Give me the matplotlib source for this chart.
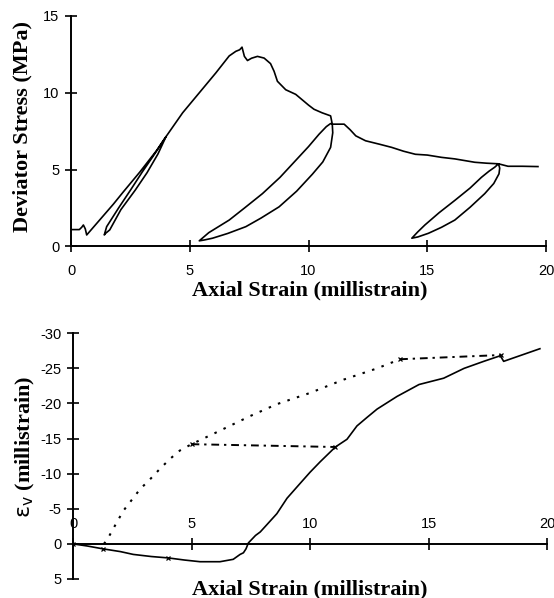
"""Deviator stress and volumetric strain against axial strain (two panels)"""

import matplotlib
matplotlib.use('Agg')
from matplotlib import pyplot as plt

# Top panel: one loading trace, split into virgin parts and unload/reload loops
curve_a_x = [0, 0.35, 0.45, 0.52, 0.6, 0.66, 0.8, 1.36, 1.78, 2.2, 2.9, 3.6, 4.0]
curve_a_y = [1.1, 1.1, 1.25, 1.4, 1.15, 0.75, 1.0, 2.0, 2.75, 3.55, 4.85, 6.24, 7.15]
loop1_down_x = [4.0, 3.66, 3.2, 2.7, 2.1, 1.63, 1.45, 1.4]
loop1_down_y = [7.15, 6.02, 4.8, 3.66, 2.4, 1.08, 0.85, 0.75]
loop1_up_x = [1.4, 1.5, 2.0, 2.5, 3.0, 3.52, 4.0]
loop1_up_y = [0.75, 1.29, 2.5, 3.66, 4.85, 6.02, 7.15]
curve_b_x = [4.0, 4.7, 5.4, 6.1, 6.66, 6.94, 7.1, 7.2, 7.3, 7.43, 7.6, 7.85, 8.13,
             8.4, 8.55, 8.69, 9.04, 9.46, 9.8, 10.0, 10.23, 10.57, 10.93, 11.0]
curve_b_y = [7.15, 8.7, 10.0, 11.3, 12.4, 12.7, 12.8, 12.97, 12.37, 12.1, 12.25, 12.37, 12.26,
             11.9, 11.4, 10.75, 10.2, 9.9, 9.46, 9.2, 8.93, 8.7, 8.5, 7.96]
loop2_down_x = [11.0, 11.02, 10.93, 10.6, 10.16, 9.5, 8.76, 8.0, 7.36, 6.6, 5.96, 5.6, 5.4]
loop2_down_y = [7.96, 7.4, 6.45, 5.5, 4.7, 3.6, 2.58, 1.85, 1.29, 0.85, 0.54, 0.42, 0.37]
loop2_up_x = [5.4, 5.8, 6.66, 7.3, 8.06, 8.8, 9.46, 10.0, 10.44, 10.75, 10.93, 11.0]
loop2_up_y = [0.37, 0.9, 1.72, 2.5, 3.44, 4.5, 5.6, 6.5, 7.3, 7.8, 8.0, 7.96]
curve_c_x = [11.0, 11.5, 11.75, 11.99, 12.4, 13.0, 13.5, 14.0, 14.5, 15.0, 15.6, 16.16,
             17.0, 17.5, 18.0]
curve_c_y = [7.96, 7.96, 7.6, 7.2, 6.88, 6.65, 6.45, 6.2, 6.0, 5.95, 5.8, 5.7,
             5.48, 5.42, 5.38]
loop3_down_x = [18.0, 18.05, 18.02, 17.8, 17.42, 16.8, 16.16, 15.6, 15.05, 14.6, 14.35]
loop3_down_y = [5.38, 5.1, 4.73, 4.1, 3.44, 2.55, 1.72, 1.25, 0.86, 0.62, 0.54]
loop3_up_x = [14.35, 14.6, 14.9, 15.5, 16.16, 16.8, 17.28, 17.6, 17.84, 18.0]
loop3_up_y = [0.54, 0.95, 1.4, 2.2, 3.0, 3.8, 4.5, 4.9, 5.16, 5.38]
curve_d_x = [18.0, 18.4, 19.0, 19.66]
curve_d_y = [5.38, 5.22, 5.22, 5.2]

# Bottom panel: volumetric strain
ev_x = [0, 0.6, 1.25, 2.0, 2.54, 3.3, 4.02, 4.7, 5.36, 6.2, 6.76, 7.05, 7.19, 7.3, 7.4,
        7.7, 7.9, 8.17, 8.6, 9.03, 9.5, 10.0, 10.43, 11.07, 11.56, 11.98, 12.4, 12.83,
        13.67, 14.6, 15.64, 16.5, 17.33, 18.03, 18.17, 19.7]
ev_y = [0, 0.3, 0.7, 1.1, 1.5, 1.8, 2.0, 2.3, 2.54, 2.54, 2.2, 1.5, 1.27, 0.7, -0.14,
        -1.2, -1.7, -2.7, -4.3, -6.5, -8.3, -10.2, -11.7, -13.8, -14.9, -16.8, -18.0, -19.2,
        -21.0, -22.7, -23.6, -25.0, -26.0, -26.8, -26.0, -27.8]
dotted_x = [1.3, 1.42, 1.77, 2.12, 2.83, 3.25, 3.67, 4.09, 4.51, 5.0, 6.06, 7.47, 8.6,
            10.0, 11.42, 12.83, 13.8]
dotted_y = [0, -0.47, -2.6, -4.7, -7.8, -9.2, -10.7, -12.1, -13.3, -14.2, -15.9, -18.2,
            -19.9, -21.5, -23.4, -25.0, -26.3]
link1_x = [5.0, 11.07]
link1_y = [-14.2, -13.8]
link2_x = [13.8, 18.05]
link2_y = [-26.3, -26.9]
mark_x = [0, 1.25, 4.02, 5.0, 11.07, 13.8, 18.05]
mark_y = [0, 0.7, 2.0, -14.2, -13.8, -26.3, -26.9]

plt.rcParams['axes.unicode_minus'] = False
tick_font = 'Liberation Sans'
label_font = dict(family='Liberation Serif', weight='bold', size=16)

fig = plt.figure(figsize=(5.54, 5.98), dpi=100)

# --- top panel ---
ax1 = fig.add_axes([0.1282, 0.5878, 0.8574, 0.3855])
stress_x = (curve_a_x + loop1_down_x + loop1_up_x + curve_b_x + loop2_down_x
            + loop2_up_x + curve_c_x + loop3_down_x + loop3_up_x + curve_d_x)
stress_y = (curve_a_y + loop1_down_y + loop1_up_y + curve_b_y + loop2_down_y
            + loop2_up_y + curve_c_y + loop3_down_y + loop3_up_y + curve_d_y)
ax1.plot(stress_x, stress_y, c='black', lw=1.2)
ax1.set_xlim(0, 20)
ax1.set_ylim(0, 15)
ax1.set_xticks([0, 5, 10, 15, 20])
ax1.set_yticks([0, 5, 10, 15])
for side in ['top', 'right']:
    ax1.spines[side].set_visible(False)
for side in ['left', 'bottom']:
    ax1.spines[side].set_linewidth(1.4)
ax1.tick_params(axis='both', direction='inout', length=9, width=1.2, labelsize=10.5)
ax1.tick_params(axis='x', pad=8)
ax1.tick_params(axis='y', pad=4)
for lab in ax1.get_xticklabels() + ax1.get_yticklabels():
    lab.set_family(tick_font)

fig.text(310 / 554, 1 - 290 / 598, 'Axial Strain (millistrain)', ha='center', va='center',
         **label_font)
fig.text(22 / 554, 1 - 126 / 598, 'Deviator Stress (MPa)', ha='center', va='center',
         rotation=90, **label_font)

# --- bottom panel ---
ax2 = fig.add_axes([0.1318, 0.0318, 0.8556, 0.4109])
ax2.plot(ev_x, ev_y, c='black', lw=1.2)
ax2.plot(dotted_x, dotted_y, c='black', lw=1.5, dashes=(1.2, 3.6))
ax2.plot(link1_x, link1_y, c='black', lw=1.4, dashes=(4, 2.5, 1.2, 2.5))
ax2.plot(link2_x, link2_y, c='black', lw=1.4, dashes=(4, 2.5, 1.2, 2.5))
ax2.plot(mark_x, mark_y, ls='none', marker='x', ms=3.5, mew=0.9, c='black')
ax2.set_xlim(0, 20)
ax2.set_ylim(5, -30)
ax2.set_xticks([0, 5, 10, 15, 20])
ax2.set_yticks([5, 0, -5, -10, -15, -20, -25, -30])
ax2.spines['right'].set_visible(False)
ax2.spines['bottom'].set_visible(False)
ax2.spines['top'].set_position(('data', 0))
ax2.xaxis.set_ticks_position('top')
for side in ['left', 'top']:
    ax2.spines[side].set_linewidth(1.4)
ax2.tick_params(axis='both', direction='inout', length=9, width=1.2, labelsize=10.5)
ax2.tick_params(axis='x', pad=5)
ax2.tick_params(axis='y', pad=4)
for lab in ax2.get_xticklabels() + ax2.get_yticklabels():
    lab.set_family(tick_font)

fig.text(310 / 554, 1 - 589 / 598, 'Axial Strain (millistrain)', ha='center', va='center',
         **label_font)
fig.text(25 / 554, 1 - 447 / 598, r'$\mathrm{\varepsilon_v}$ (millistrain)', ha='center',
         va='center', rotation=90, **label_font)

fig.savefig('out.png', dpi=100)
